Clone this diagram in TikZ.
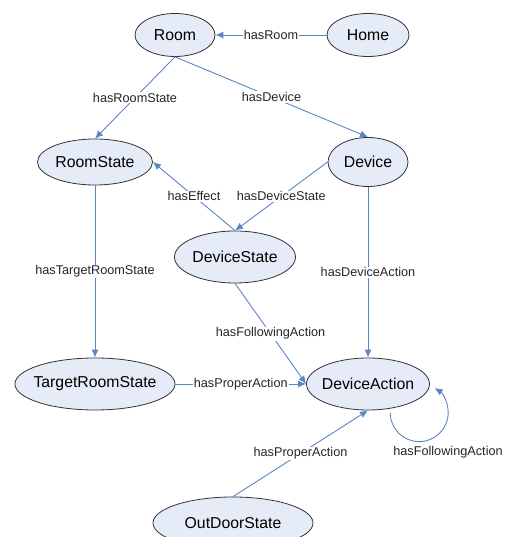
\documentclass[tikz,border=0pt]{standalone}
\usepackage{fontspec}
\setmainfont{Liberation Sans}
\usepackage{tikz}
\usetikzlibrary{shapes,arrows.meta,positioning}
\usepackage{xcolor}
\definecolor{nodefill}{HTML}{E6ECF7}
\definecolor{linkblue}{HTML}{5B86C5}

\begin{document}
\begin{tikzpicture}[
    x=1pt, y=1pt, on grid,
    state/.style={ellipse, draw=black!80, fill=nodefill, line width=0.8pt, inner xsep=-8pt, inner ysep=0pt, font=\fontsize{15.8}{18}\selectfont},
    link/.style={draw=linkblue, line width=0.9pt, -{Latex[length=8pt,width=7pt]}},
    rel/.style={fill=white, inner sep=1pt, text=black!85, font=\fontsize{12.7}{14}\selectfont}
]
\useasboundingbox (0,0) rectangle (509,537);

% Top row
\node (room) [state, minimum width=80pt, minimum height=43pt] at (175,502) {Room};
\node (home) [state, minimum width=82pt, minimum height=43pt, right=193pt of room] {Home};

% States and devices
\node (roomstate) [state, minimum width=115pt, minimum height=46pt, below left=127pt and 80pt of room] {RoomState};
\node (device) [state, minimum width=80pt, minimum height=49pt, below=127pt of home] {Device};
\node (devicestate) [state, minimum width=121pt, minimum height=52pt, below left=95pt and 133pt of device] {DeviceState};

% Actions
\node (targetstate) [state, minimum width=160pt, minimum height=52pt, below=222pt of roomstate] {TargetRoomState};
\node (action) [state, minimum width=123pt, minimum height=52pt, below=222pt of device] {DeviceAction};
\node (outdoor) [state, minimum width=160pt, minimum height=52pt, below left=139pt and 135pt of action] {OutDoorState};

% Relations
\draw[link] (home.west) -- node[rel] {hasRoom} (room.east);
\draw[link] (room.south) -- node[rel] {hasRoomState} (roomstate.north);
\draw[link] (room.south) -- node[rel] {hasDevice} (device.north);
\draw[link] (device.west) -- node[rel] {hasDeviceState} (devicestate.north);
\draw[link] (devicestate.north) -- node[rel] {hasEffect} (roomstate.east);
\draw[link] (roomstate.south) -- node[rel] {hasTargetRoomState} (targetstate.north);
\draw[link] (device.south) -- node[rel] {hasDeviceAction} (action.north);
\draw[link] (devicestate.south) -- node[rel] {hasFollowingAction} (action.west);
\draw[link] (targetstate.east) -- node[rel] {hasProperAction} (action.west);
\draw[link] (outdoor.north) -- node[rel] {hasProperAction} (action.south);

% Self loop
\draw[link] ([yshift=-4pt]action.-48) arc[start angle=180, end angle=418, radius=29];
\node (looplabel) [rel] at (448,85) {hasFollowingAction};

\end{tikzpicture}
\end{document}
